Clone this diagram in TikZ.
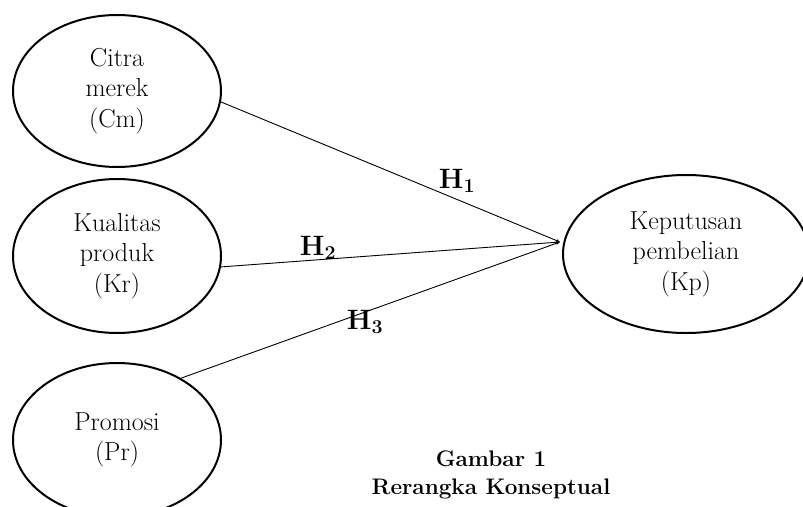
\documentclass[tikz,border=0pt]{standalone}
\usepackage{fontspec}
\usetikzlibrary{shapes.geometric,arrows.meta}
\begin{document}
\begin{tikzpicture}[x=1pt,y=-1pt,
  var/.style={draw,line width=2pt,ellipse,inner sep=0pt,align=center,
    font=\fontsize{26}{30.5}\selectfont},
  link/.style={line width=0.9pt,-{Stealth[length=4pt,width=3pt]}},
  hyp/.style={font=\fontsize{28}{30}\selectfont\bfseries},
  figcaption/.style={font=\fontsize{22.5}{28}\selectfont\bfseries,align=center}]
\useasboundingbox (0,0) rectangle (803,506);
\clip (0,0) rectangle (803,506);
\node[var,minimum width=208pt,minimum height=152pt] (cm) at (117,91) {Citra\\merek\\(Cm)};
\node[var,minimum width=208pt,minimum height=154pt] (kr) at (117,256) {Kualitas\\produk\\(Kr)};
\node[var,minimum width=208pt,minimum height=154pt] (pr) at (117,440) {Promosi\\(Pr)};
\node[var,minimum width=246pt,minimum height=158pt] (kp) at (686,254) {Keputusan\\pembelian\\(Kp)};
\coordinate (hub) at (560,242);
\draw[link] (cm.-6) -- (hub);
\draw[link] (kr.-6) -- (hub);
\draw[link] (pr.44) -- (hub);
\node[hyp] (h1) at (457,181) {H\textsubscript{1}};
\node[hyp] (h2) at (318,248) {H\textsubscript{2}};
\node[hyp] (h3) at (365,322) {H\textsubscript{3}};
\node[figcaption] (fig) at (491,475) {Gambar 1\\Rerangka Konseptual};
\end{tikzpicture}
\end{document}
